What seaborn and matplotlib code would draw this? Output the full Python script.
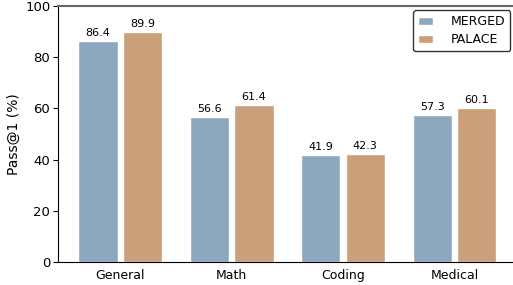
import pandas as pd
import matplotlib
matplotlib.use("Agg")
import matplotlib.pyplot as plt
import seaborn as sns

categories = ["General", "Math", "Coding", "Medical"]
methods = ["MERGED", "PALACE"]
merged_vals = [86.4, 56.6, 41.9, 57.3]
palace_vals = [89.9, 61.4, 42.3, 60.1]

df = pd.DataFrame({
    "Domain": categories * 2,
    "Method": [methods[0]] * 4 + [methods[1]] * 4,
    "Score": merged_vals + palace_vals,
})

sns.set_style("white")
plt.rcParams["font.family"] = ["DejaVu Sans"]
plt.rcParams["text.color"] = "black"
plt.rcParams["axes.labelcolor"] = "black"
plt.rcParams["xtick.color"] = "black"
plt.rcParams["ytick.color"] = "black"

fig = plt.figure(figsize=(5.13, 2.85), dpi=100)
ax = fig.add_axes([0.113, 0.081, 0.89, 0.898])

sns.barplot(data=df, x="Domain", y="Score", hue="Method",
            palette=["#8DA7BE", "#C9A07A"], saturation=1, width=0.8, gap=0.12,
            edgecolor="white", linewidth=1, ax=ax)

for cont in ax.containers:
    ax.bar_label(cont, fmt="%.1f", padding=2, fontsize=8)

ax.set_ylim(0, 100)
ax.set_xlim(-0.56, 3.54)
ax.set_xlabel("")
ax.set_ylabel("Pass@1 (%)", fontsize=10, labelpad=3)
ax.tick_params(axis="y", labelsize=9.5, length=3.5, pad=2, left=True)
ax.tick_params(axis="x", labelsize=9, length=0, pad=5)
for s in ["left", "bottom"]:
    ax.spines[s].set_color("black")
ax.spines["top"].set_color("#666666")
ax.spines["top"].set_linewidth(1.5)
ax.spines["right"].set_visible(False)

leg = ax.legend(loc="upper right", fontsize=9, frameon=True, fancybox=True,
                edgecolor="black", handlelength=1.2, handletextpad=1.4,
                borderaxespad=0.35, labelspacing=0.4)
leg.get_frame().set_linewidth(1)

fig.savefig("out.png", dpi=100)
